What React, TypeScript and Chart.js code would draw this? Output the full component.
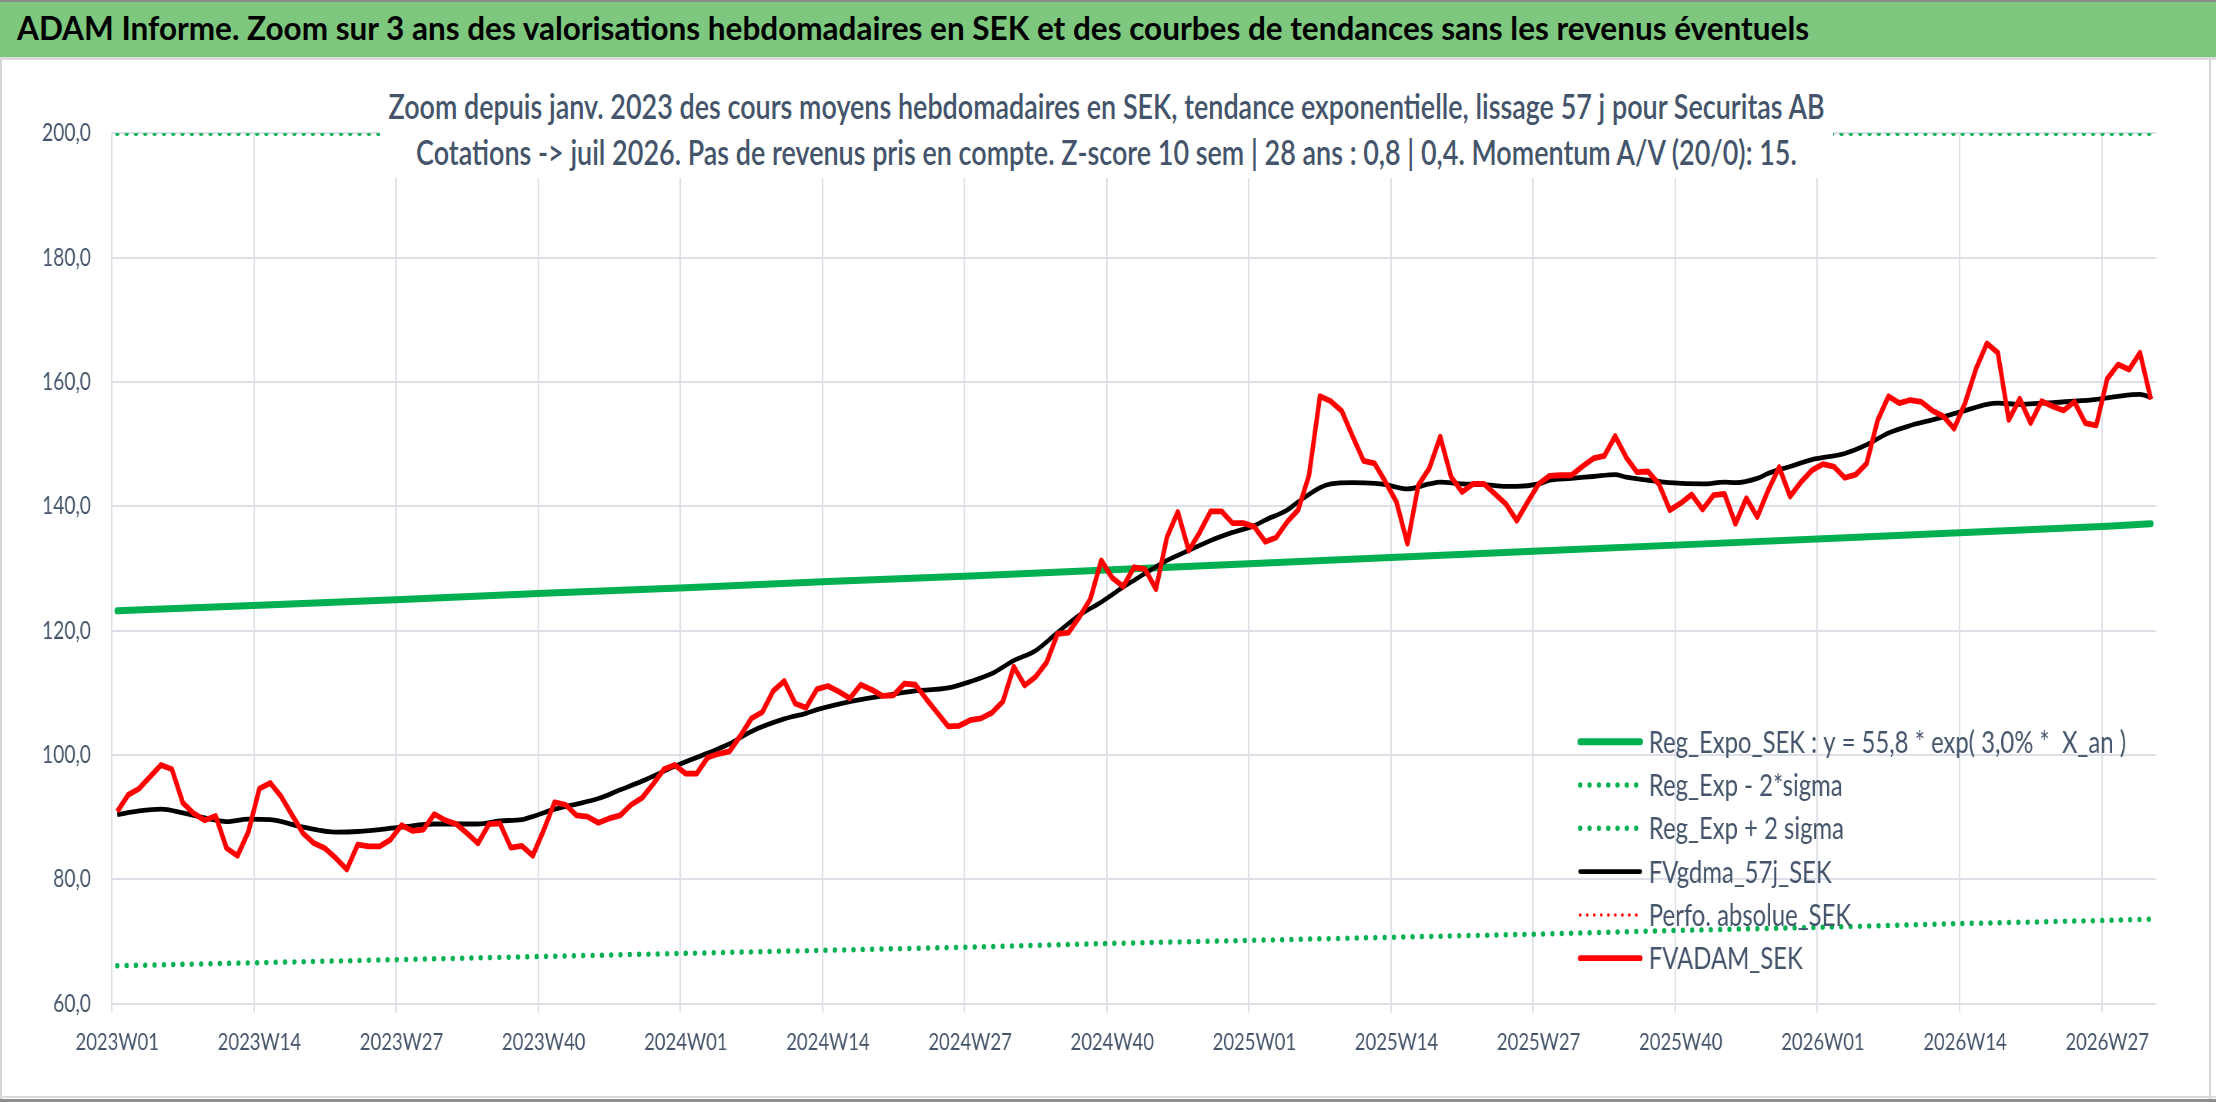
import { useEffect, useRef } from 'react';
import Chart from 'chart.js/auto';

// the reference picture is squeezed horizontally, so the chart is drawn wider and scaled back
const SQUASH = 0.77;
const PAGE_W = 2216;
const PAGE_H = 1102;
const INNER_W = PAGE_W / SQUASH;

const HEADER = 'ADAM Informe. Zoom sur 3 ans des valorisations hebdomadaires en SEK et des courbes de tendances sans les revenus éventuels';
const TITLE_LINES = [
  'Zoom depuis janv. 2023 des cours moyens hebdomadaires en SEK, tendance exponentielle, lissage 57 j pour Securitas AB',
  'Cotations -> juil 2026. Pas de revenus pris en compte. Z-score 10 sem | 28 ans : 0,8 | 0,4. Momentum A/V (20/0): 15.',
];

const years = [2023, 2024, 2025, 2026];
const weeksShown = [52, 52, 52, 31];
const weekLabels: string[] = [];
years.forEach((y, k) => {
  for (let w = 1; w <= weeksShown[k]; w++) weekLabels.push(`${y}W${String(w).padStart(2, '0')}`);
});

// FVADAM_SEK, one value per week
const adamValues = [
  90.9, 93.6, 94.6, 96.5, 98.4, 97.7, 92.3, 90.6, 89.5, 90.2,
  85.0, 83.8, 87.7, 94.6, 95.5, 93.3, 90.3, 87.4, 85.8, 85.0,
  83.4, 81.6, 85.6, 85.3, 85.3, 86.4, 88.7, 87.8, 88.0, 90.5,
  89.5, 88.9, 87.4, 85.8, 88.9, 89.0, 85.1, 85.4, 83.8, 87.9,
  92.4, 92.0, 90.3, 90.1, 89.1, 89.8, 90.3, 92.0, 93.1, 95.3,
  97.7, 98.4, 97.0, 97.0, 99.6, 100.2, 100.6, 103.1, 105.9, 106.9,
  110.3, 111.9, 108.3, 107.6, 110.6, 111.1, 110.2, 109.1, 111.3, 110.5,
  109.5, 109.6, 111.5, 111.3, 109.0, 106.8, 104.6, 104.7, 105.6, 105.9,
  106.8, 108.6, 114.2, 111.2, 112.6, 114.9, 119.5, 119.7, 122.2, 125.1,
  131.3, 128.5, 127.1, 130.2, 129.9, 126.7, 135.0, 139.1, 132.9, 135.8,
  139.2, 139.2, 137.3, 137.3, 136.7, 134.3, 135.0, 137.5, 139.4, 145.0,
  157.7, 156.9, 155.3, 151.2, 147.3, 146.9, 143.9, 140.7, 134.0, 143.4,
  146.1, 151.2, 144.7, 142.3, 143.6, 143.6, 142.0, 140.4, 137.7, 140.7,
  143.6, 144.9, 145.0, 145.0, 146.4, 147.7, 148.1, 151.3, 147.9, 145.5,
  145.6, 143.6, 139.4, 140.5, 141.9, 139.5, 141.8, 142.0, 137.2, 141.3,
  138.3, 142.6, 146.3, 141.6, 143.9, 145.8, 146.8, 146.4, 144.6, 145.1,
  146.9, 153.8, 157.7, 156.6, 157.1, 156.8, 155.4, 154.5, 152.5, 156.6,
  162.1, 166.2, 164.7, 153.9, 157.3, 153.4, 156.9, 156.1, 155.4, 156.8,
  153.4, 153.0, 160.5, 162.8, 162.0, 164.7, 157.2,
];

// FVgdma_57j_SEK, read at these week indexes
const maWeeks = [
  0, 2, 4, 6, 8, 10, 12, 14, 17, 20, 22, 26, 29, 33, 35, 37, 38, 40, 42, 44,
  46, 48, 51, 54, 56, 58, 61, 63, 64, 67, 70, 73, 76, 78, 80, 82, 84, 86, 88, 90,
  92, 93, 96, 98, 100, 102, 104, 105, 107, 108, 110, 111, 113, 115, 116, 118, 120, 121, 123, 125,
  127, 128, 130, 131, 133, 135, 137, 138, 141, 142, 145, 147, 148, 150, 151, 153, 155, 158, 160, 162,
  164, 166, 167, 169, 171, 172, 174, 176, 179, 181, 183, 185, 186,
];
const maValues = [
  90.4, 91.0, 91.3, 90.7, 89.9, 89.3, 89.7, 89.6, 88.4, 87.6, 87.7, 88.4, 88.9, 88.9, 89.4, 89.6, 90.1, 91.3, 92.1, 93.0,
  94.4, 95.8, 98.2, 100.3, 101.8, 103.8, 105.8, 106.7, 107.3, 108.6, 109.5, 110.3, 110.8, 111.8, 113.1, 115.2, 116.8, 119.7, 122.5, 124.6,
  127.0, 128.1, 131.3, 132.9, 134.5, 135.8, 136.9, 137.8, 139.4, 140.7, 143.0, 143.6, 143.8, 143.7, 143.5, 142.8, 143.6, 143.9, 143.6, 143.5,
  143.2, 143.2, 143.6, 144.2, 144.5, 144.8, 145.1, 144.7, 144.0, 143.8, 143.6, 143.9, 143.8, 144.5, 145.3, 146.4, 147.5, 148.5, 149.9, 151.8,
  153.0, 153.9, 154.4, 155.4, 156.4, 156.6, 156.4, 156.6, 156.9, 157.2, 157.7, 158.0, 157.5,
];

// exponential trend and its bands, read every 13 weeks
const regWeeks = [0, 13, 26, 39, 52, 65, 78, 91, 104, 117, 130, 143, 156, 169, 182, 186];
const regValues = [123.2, 124.1, 125.0, 126.0, 126.9, 127.9, 128.8, 129.8, 130.8, 131.8, 132.8, 133.8, 134.8, 135.8, 136.8, 137.2];
const lowValues = [66.1, 66.6, 67.1, 67.6, 68.1, 68.6, 69.1, 69.7, 70.2, 70.7, 71.2, 71.8, 72.3, 72.9, 73.4, 73.6];
const highWeeks = [0, 186];
const highValues = [200, 200];

const GREEN = '#00B050';
const RED = '#FF0000';
const TEXT = '#44546A';
const GRID = '#DDE1E7';

const pts = (weeks: number[], values: number[]) => weeks.map((w, k) => ({ x: weekLabels[w], y: values[k] }));

const insideLegend = {
  id: 'insideLegend',
  afterDatasetsDraw(chart: any) {
    const { ctx, chartArea } = chart;
    const x0 = chartArea.right - 752;
    const y0 = chartArea.bottom - 262;
    ctx.save();
    ctx.font = '31px Lato';
    ctx.textBaseline = 'middle';
    chart.data.datasets.forEach((ds: any, i: number) => {
      const y = y0 + i * 43.3;
      ctx.beginPath();
      ctx.setLineDash(ds.borderDash || []);
      ctx.lineCap = 'round';
      ctx.lineWidth = ds.borderWidth;
      ctx.strokeStyle = ds.borderColor;
      ctx.moveTo(x0 + 4, y);
      ctx.lineTo(x0 + 82, y);
      ctx.stroke();
      ctx.setLineDash([]);
      ctx.fillStyle = TEXT;
      ctx.fillText(ds.label, x0 + 93, y + 1);
    });
    ctx.restore();
  },
};

export default function App() {
  const canvasRef = useRef<HTMLCanvasElement | null>(null);

  useEffect(() => {
    if (!canvasRef.current) return;
    const chart = new Chart(canvasRef.current, {
      type: 'line',
      data: {
        labels: weekLabels,
        datasets: [
          {
            label: 'Reg_Expo_SEK : y = 55,8 * exp( 3,0% *  X_an )',
            data: pts(regWeeks, regValues),
            borderColor: GREEN,
            borderWidth: 7,
            borderCapStyle: 'round',
            order: 6,
          },
          {
            label: 'Reg_Exp - 2*sigma',
            data: pts(regWeeks, lowValues),
            borderColor: GREEN,
            borderWidth: 5.5,
            borderDash: [0.1, 12],
            borderCapStyle: 'round',
            order: 5,
          },
          {
            label: 'Reg_Exp + 2 sigma',
            data: pts(highWeeks, highValues),
            borderColor: GREEN,
            borderWidth: 5.5,
            borderDash: [0.1, 12],
            borderCapStyle: 'round',
            clip: 0,
            order: 4,
          },
          {
            label: 'FVgdma_57j_SEK',
            data: pts(maWeeks, maValues),
            borderColor: '#000000',
            borderWidth: 4.8,
            cubicInterpolationMode: 'monotone',
            order: 3,
          },
          {
            label: 'Perfo. absolue_SEK',
            data: [],
            borderColor: RED,
            borderWidth: 3.5,
            borderDash: [0.1, 9],
            borderCapStyle: 'round',
            order: 2,
          },
          {
            label: 'FVADAM_SEK',
            data: adamValues,
            borderColor: RED,
            borderWidth: 5.8,
            order: 1,
          },
        ],
      } as any,
      options: {
        animation: false,
        responsive: true,
        maintainAspectRatio: false,
        events: [],
        layout: { padding: { top: 71.3, right: 78.4, bottom: 0, left: 0 } },
        elements: { point: { radius: 0 }, line: { borderJoinStyle: 'round', fill: false } },
        plugins: { legend: { display: false }, title: { display: false }, tooltip: { enabled: false } },
        scales: {
          x: {
            offset: true,
            grid: {
              offset: true,
              color: (c: any) => (c.index !== undefined && c.index % 13 === 0 ? GRID : 'rgba(0,0,0,0)'),
              lineWidth: 2,
              drawTicks: true,
              tickLength: 9,
            },
            border: { display: false },
            ticks: {
              autoSkip: false,
              maxRotation: 0,
              minRotation: 0,
              padding: 15,
              color: TEXT,
              font: { family: 'Lato', size: 24 },
              callback: (_v: any, i: number) => (i % 13 === 0 ? weekLabels[i] : ''),
            },
            afterFit: (s: any) => { s.height = 92.3; },
          },
          y: {
            min: 60,
            max: 200,
            grid: { color: GRID, lineWidth: 2, drawTicks: false },
            border: { display: false },
            ticks: {
              stepSize: 20,
              padding: 27,
              color: TEXT,
              font: { family: 'Lato', size: 25 },
              callback: (v: any) => Number(v).toFixed(1).replace('.', ','),
            },
            afterFit: (s: any) => { s.width = 145.1; },
          },
        },
      } as any,
      plugins: [insideLegend],
    });
    return () => chart.destroy();
  }, []);

  return (
    <div style={{ position: 'fixed', left: 0, top: 0, width: PAGE_W, height: PAGE_H, overflow: 'hidden', background: '#fff' }}>
      <div
        style={{
          position: 'absolute', left: 0, top: 0, width: PAGE_W, height: 57, boxSizing: 'border-box',
          background: '#7DC87E', borderTop: '2px solid #8C8C8C', color: '#000',
          fontFamily: 'Lato, sans-serif', fontWeight: 700, fontSize: 31.5, lineHeight: '53px',
          paddingLeft: 17, whiteSpace: 'nowrap',
        }}
      >
        {HEADER}
      </div>
      <div style={{ position: 'absolute', left: 0, top: 57, width: PAGE_W, height: 3, background: '#DADADA' }} />
      <div style={{ position: 'absolute', left: 0, top: 60, width: 2, height: PAGE_H - 60, background: '#D4D4D4' }} />
      <div style={{ position: 'absolute', left: 2209, top: 60, width: 2, height: PAGE_H - 60, background: '#D4D4D4' }} />
      <div style={{ position: 'absolute', left: 0, top: 1096, width: PAGE_W, height: 2, background: '#DADADA' }} />
      <div style={{ position: 'absolute', left: 0, top: 1099, width: PAGE_W, height: 3, background: '#8C8C8C' }} />

      <div
        style={{
          position: 'absolute', left: 0, top: 0, width: INNER_W, height: PAGE_H,
          transform: `scaleX(${SQUASH})`, transformOrigin: '0 0',
        }}
      >
        <div style={{ position: 'absolute', left: 0, top: 62, width: INNER_W, height: 1034 }}>
          <canvas ref={canvasRef} />
        </div>
        <div
          style={{
            position: 'absolute', left: 380 / SQUASH, top: 83, width: (1833 - 380) / SQUASH, paddingBottom: 4,
            background: '#fff', color: TEXT, textAlign: 'center',
            fontFamily: 'Lato, sans-serif', fontWeight: 600, fontSize: 35, lineHeight: '45.7px',
          }}
        >
          {TITLE_LINES.map((t) => (
            <div key={t} style={{ whiteSpace: 'nowrap' }}>{t}</div>
          ))}
        </div>
      </div>
    </div>
  );
}
